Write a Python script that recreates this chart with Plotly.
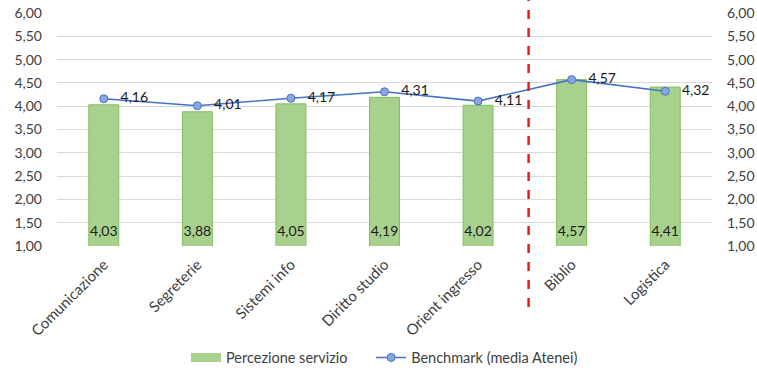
import plotly.graph_objects as go

# Service areas and scores
categories = ["Comunicazione", "Segreterie", "Sistemi info", "Diritto studio",
              "Orient ingresso", "Biblio", "Logistica"]
percezione = [4.03, 3.88, 4.05, 4.19, 4.02, 4.57, 4.41]
benchmark = [4.16, 4.01, 4.17, 4.31, 4.11, 4.57, 4.32]
y_ticks = [1.0, 1.5, 2.0, 2.5, 3.0, 3.5, 4.0, 4.5, 5.0, 5.5, 6.0]

FONT = "Lato"
AXIS_COLOR = "#404040"
BAR_FILL = "#a9d18e"
GAP = "\u00a0" * 5  # spacing between legend entries

def fmt(v):
    return f"{v:.2f}".replace(".", ",")

fig = go.Figure()

fig.add_trace(go.Bar(
    x=categories, y=percezione, name="Percezione servizio",
    width=0.32, showlegend=False, legendgroup="perc",
    marker=dict(color=BAR_FILL, line=dict(color="#7fbf5a", width=1)),
))

# Wide swatch for the bar series in the legend
fig.add_trace(go.Scatter(
    x=[None], y=[None], mode="lines", name="Percezione servizio" + GAP,
    legendgroup="perc", line=dict(color=BAR_FILL, width=9),
))

# Value labels sitting at the foot of each bar
fig.add_trace(go.Scatter(
    x=categories, y=[1.29] * len(categories), mode="text",
    text=[fmt(v) for v in percezione],
    textfont=dict(family=FONT, size=14, color="#1a1a1a"),
    showlegend=False, hoverinfo="skip",
))

fig.add_trace(go.Scatter(
    x=categories, y=benchmark, name="Benchmark (media Atenei)",
    mode="lines+markers+text",
    line=dict(color="#4472c4", width=1.6),
    marker=dict(symbol="circle", size=8, color="#8aa6dd",
                line=dict(color="#4472c4", width=1)),
    text=["   " + fmt(v) for v in benchmark],
    textposition="middle right",
    textfont=dict(family=FONT, size=14, color="#1a1a1a"),
))

# Invisible trace to drive the mirrored right-hand axis
fig.add_trace(go.Scatter(
    x=categories, y=benchmark, yaxis="y2", mode="markers",
    marker=dict(opacity=0), showlegend=False, hoverinfo="skip",
))

# Dashed separator between the two groups of services
fig.add_shape(
    type="line", xref="x", yref="paper",
    x0=4.54, x1=4.54, y0=-0.262, y1=1.056,
    line=dict(color="#e02020", width=2.5, dash="dash"),
)

axis_common = dict(
    range=[1, 6], tickvals=y_ticks, tickformat=".2f",
    tickfont=dict(family=FONT, size=14, color=AXIS_COLOR),
    ticklabelstandoff=14, automargin=False,
)

fig.update_layout(
    width=757, height=373,
    margin=dict(l=57, r=45, t=13, b=127, autoexpand=False),
    paper_bgcolor="white", plot_bgcolor="white",
    separators=",.",
    font=dict(family=FONT, size=13, color=AXIS_COLOR),
    bargap=0.68,
    xaxis=dict(
        tickangle=-45, showgrid=False, zeroline=False, automargin=False,
        tickfont=dict(family=FONT, size=15, color=AXIS_COLOR),
        showline=False, ticks="", ticklabelstandoff=6,
    ),
    yaxis=dict(showgrid=True, gridcolor="#d9d9d9", gridwidth=1,
               zeroline=False, showline=False, **axis_common),
    yaxis2=dict(overlaying="y", side="right", showgrid=False,
                zeroline=False, showline=False, **axis_common),
    legend=dict(orientation="h", x=0.5, xanchor="center", y=-0.41,
                yanchor="top", itemwidth=30, tracegroupgap=0,
                font=dict(family=FONT, size=14.5, color=AXIS_COLOR)),
)

fig.write_html("out.html")
